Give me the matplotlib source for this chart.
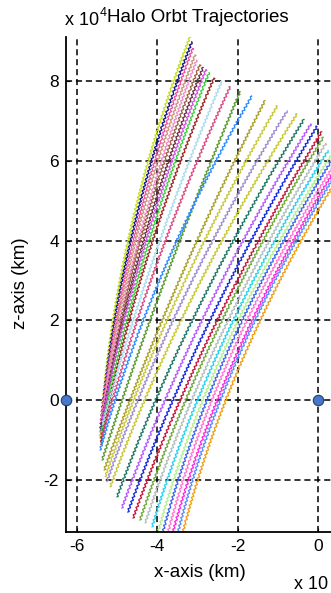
import numpy as np
import matplotlib
matplotlib.use("Agg")
import matplotlib.pyplot as plt

# Halo orbit trajectory family, x and z in units of 1e4 km.
# Each trajectory: start point, x where it crosses z = 2, end point.
x_start = [-5.42, -5.41, -5.40, -5.40, -5.38, -5.40, -5.39, -5.37, -5.38, -5.40,
           -5.36, -5.36, -5.37, -5.42, -5.32, -5.29, -5.25, -5.17, -5.00, -4.88,
           -4.73, -4.60, -4.43, -4.30, -4.13, -4.01, -3.89, -3.76, -3.64, -3.51, -3.39]
z_start = [-0.95, -0.75, -0.55, -0.85, -0.45, -1.00, -0.65, -0.50, -0.80, -1.10,
           -0.60, -0.90, -1.49, -1.24, -1.74, -1.90, -2.02, -2.16, -2.41, -2.69,
           -2.79, -2.94, -2.99, -3.06, -3.16, -3.40, -3.40, -3.40, -3.40, -3.40, -3.40]
x_at_z2 = [-5.10, -5.06, -5.02, -4.98, -4.94, -4.90, -4.86, -4.82, -4.76, -4.70,
           -4.60, -4.50, -4.18, -4.35, -3.88, -3.76, -3.61, -3.41, -3.13, -2.89,
           -2.69, -2.51, -2.39, -2.24, -2.11, -1.99, -1.89, -1.77, -1.64, -1.57, -1.44]
x_end = [-3.18, -3.14, -3.12, -3.06, -3.02, -2.94, -2.86, -2.79, -2.71, -2.59,
         -2.40, -2.19, -1.94, -1.65, -1.32, -1.02, -0.77, -0.53, -0.35, -0.18,
         -0.03, 0.09, 0.13, 0.19, 0.25, 0.45, 0.45, 0.45, 0.45, 0.45, 0.45]
z_end = [9.11, 8.97, 8.80, 8.64, 8.51, 8.39, 8.33, 8.27, 8.20, 8.06,
         7.97, 7.84, 7.72, 7.61, 7.50, 7.36, 7.24, 7.16, 7.03, 6.91,
         6.85, 6.72, 6.58, 6.42, 6.25, 6.32, 6.17, 5.97, 5.82, 5.67, 5.50]
colors = ['#c5e01a', '#14148c', '#f050a0', '#c8967a', '#f08cc8', '#9a6446',
          '#6a3040', '#d250e6', '#3cd23c', '#a02828', '#a8dcf0', '#dc4b82',
          '#5a9a32', '#2d8cff', '#a8a028', '#c8c83c', '#a08cd2', '#c8c832',
          '#1e7864', '#b45aff', '#1428dc', '#c8143c', '#6eaa3c', '#b4bebe',
          '#28d2f0', '#b4f08c', '#3c64f0', '#ff7ad2', '#ff28dc', '#5a8cff',
          '#f0a014']

# Libration points / primaries on the z = 0 plane
body_x = [-6.27, 0.0]
body_z = [0.0, 0.0]

xticks = [-6, -4, -2, 0]
zticks = [-2, 0, 2, 4, 6, 8]

font = 'Liberation Sans'
plt.rcParams['font.family'] = [font, 'DejaVu Sans']

W, H = 331, 593
fig = plt.figure(figsize=(W / 100, H / 100), dpi=100)
fig.patch.set_facecolor('white')

def fx(px):
    return px / W

def fy(py):
    return 1 - py / H

xlim = (-6.27, 0.55)
zlim = (-3.29, 9.09)
ax_left, ax_top, ax_bottom = 66, 37, 532
ax_width_px = (xlim[1] - xlim[0]) * 40.2
ax = fig.add_axes([fx(ax_left), fy(ax_bottom), ax_width_px / W, (ax_bottom - ax_top) / H])
ax.set_xlim(*xlim)
ax.set_ylim(*zlim)

for xs, zs, xm, xe, ze, c in zip(x_start, z_start, x_at_z2, x_end, z_end, colors):
    coef = np.polyfit([zs, 2.0, ze], [xs, xm, xe], 2)
    zz = np.linspace(zs, ze, 300)
    ln, = ax.plot(np.polyval(coef, zz), zz, color=c, lw=0.95, zorder=2)
    ln.set_sketch_params(scale=1.0, length=4.0, randomness=1.0)

ax.plot(body_x, body_z, 'o', ms=7.5, mfc='#4a78c8', mec='#1e3c78', mew=0.8,
        clip_on=False, zorder=5)

# dashed grid
ax.set_xticks(xticks)
ax.set_yticks(zticks)
ax.grid(True, color='black', linestyle=(0, (4, 2.5)), lw=1.1)
ax.set_axisbelow(True)

for s in ['top', 'right']:
    ax.spines[s].set_visible(False)
for s in ['left', 'bottom']:
    ax.spines[s].set_linewidth(1.3)
ax.tick_params(direction='in', length=3, width=0.8, labelsize=12.5, pad=5)
ax.set_xticklabels([str(v) for v in xticks], fontfamily=font)
ax.set_yticklabels([str(v) for v in zticks], fontfamily=font)

# axis labels, title and exponent markers
fig.text(fx(200), fy(577), 'x-axis (km)', ha='center', va='baseline', fontsize=13.5)
fig.text(fx(21), fy(283), 'z-axis (km)', ha='center', va='center', rotation=90, fontsize=13.5)
fig.text(fx(198), fy(22), 'Halo Orbt Trajectories', ha='center', va='baseline', fontsize=13.5)
fig.text(fx(65), fy(25), 'x 10', ha='left', va='baseline', fontsize=13)
fig.text(fx(100), fy(16), '4', ha='left', va='baseline', fontsize=9)
fig.text(fx(294), fy(589), 'x 10', ha='left', va='baseline', fontsize=13)

fig.savefig('out.png', dpi=100)
